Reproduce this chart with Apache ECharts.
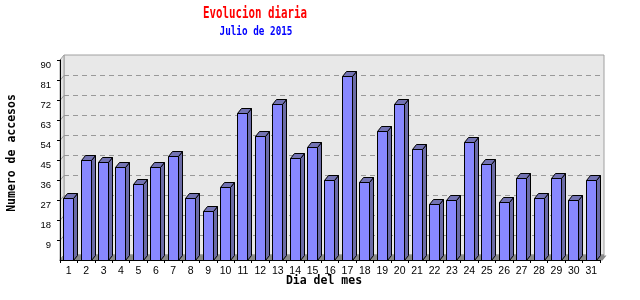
<!DOCTYPE html>
<html>
<head>
<meta charset="utf-8">
<script src="https://cdn.jsdelivr.net/npm/echarts@6/dist/echarts.min.js"></script>
<style>html,body{margin:0;padding:0;background:#fff}#c{width:640px;height:300px}</style>
</head>
<body>
<div id="c"></div>
<script>
const days = ['1','2','3','4','5','6','7','8','9','10','11','12','13','14','15','16','17','18','19','20','21','22','23','24','25','26','27','28','29','30','31'];
const accesos = [28,45,44,42,34,42,47,28,22,33,66,56,70,46,51,36,83,35,58,70,50,25,27,53,43,26,37,28,37,27,36];
const yTicks = [9,18,27,36,45,54,63,72,81,90];
const titleText = 'Evolucion diaria';
const subtitleText = 'Julio de 2015';
const yName = 'Numero de accesos';
const xName = 'Dia del mes';

const DX = 4, DY = 5;
const MONO = '"DejaVu Sans Mono", "Liberation Mono", monospace';
const SANS = '"Liberation Sans", Arial, sans-serif';
const NARROW = '"Liberation Sans Narrow", "Liberation Sans", Arial, sans-serif';

const chart = echarts.init(document.getElementById('c'), null, {renderer: 'canvas'});

function frameRender(params, api) {
  const cs = params.coordSys;
  const x0 = cs.x, y0 = cs.y, x1 = cs.x + cs.width, y1 = cs.y + cs.height;
  const ch = [];
  ch.push({type: 'rect', shape: {x: x0 + DX, y: y0 - DY, width: cs.width, height: cs.height},
    style: {fill: '#e8e8e8', stroke: '#a0a0a0', lineWidth: 1}});
  ch.push({type: 'polygon', shape: {points: [[x0, y0], [x0 + DX, y0 - DY], [x0 + DX, y1 - DY], [x0, y1]]},
    style: {fill: '#e2e2e2', stroke: '#a0a0a0', lineWidth: 1}});
  yTicks.forEach(function (v) {
    if (v >= 90) return;
    const p = api.coord([0, v]);
    const yy = Math.round(p[1]) + 0.5;
    ch.push({type: 'line', shape: {x1: x0, y1: yy, x2: x0 + DX, y2: yy - DY},
      style: {stroke: '#999', lineWidth: 1}});
    ch.push({type: 'line', shape: {x1: x0 + DX, y1: yy - DY, x2: x1 + DX, y2: yy - DY},
      style: {stroke: '#999', lineWidth: 1, lineDash: [5, 4]}});
  });
  ch.push({type: 'polygon', shape: {points: [[x0, y1], [x0 + DX, y1 - DY], [x1 + DX, y1 - DY], [x1, y1]]},
    style: {fill: '#9c9c9c', stroke: '#8c8c8c', lineWidth: 1}});
  return {type: 'group', children: ch};
}

function barRender(params, api) {
  const idx = api.value(0), val = api.value(1);
  const top = api.coord([idx, val]);
  const base = api.coord([idx, 0]);
  const band = api.size([1, 0])[0];
  const w = Math.round(band * 0.55);
  const xa = Math.round(top[0] - w / 2 - 0.5) + 0.5;
  const xb = xa + w;
  const yt = Math.round(top[1]) + 0.5;
  const yb = Math.round(base[1]) + 0.5;
  return {type: 'group', children: [
    {type: 'polygon', shape: {points: [[xb, yb], [xb + DX, yb - DY], [xb + DX + 6, yb - DY], [xb + 6, yb]]},
      style: {fill: '#8a8a8a'}},
    {type: 'polygon', shape: {points: [[xb, yt], [xb + DX, yt - DY], [xb + DX, yb - DY], [xb, yb]]},
      style: {fill: '#6b6ba6', stroke: '#000', lineWidth: 1}},
    {type: 'polygon', shape: {points: [[xa, yt], [xa + DX, yt - DY], [xb + DX, yt - DY], [xb, yt]]},
      style: {fill: '#7373b3', stroke: '#000', lineWidth: 1}},
    {type: 'rect', shape: {x: xa, y: yt, width: w, height: yb - yt},
      style: {fill: '#8888ff', stroke: '#000', lineWidth: 1}}
  ]};
}

const option = {
  animation: false,
  backgroundColor: '#fff',
  graphic: [
    {type: 'text', x: 255, y: 14, scaleX: 0.72,
      style: {text: titleText, align: 'center', verticalAlign: 'middle', fill: '#ff0000',
        font: 'bold 15px ' + MONO}},
    {type: 'text', x: 256, y: 32, scaleX: 0.81,
      style: {text: subtitleText, align: 'center', verticalAlign: 'middle', fill: '#0000ff',
        font: 'bold 11.5px ' + MONO}},
    {type: 'text', x: 12.5, y: 153, rotation: Math.PI / 2,
      style: {text: yName, align: 'center', verticalAlign: 'middle', fill: '#000',
        font: 'bold 11.5px ' + MONO}},
    {type: 'text', x: 324, y: 281.5,
      style: {text: xName, align: 'center', verticalAlign: 'middle', fill: '#000',
        font: 'bold 11.5px ' + MONO}}
  ],
  grid: {left: 60, top: 60, width: 540, height: 200, containLabel: false},
  xAxis: {
    type: 'category', data: days, boundaryGap: true, z: 5,
    axisLine: {lineStyle: {color: '#000', width: 1}},
    axisTick: {show: true, length: 3, lineStyle: {color: '#000'}},
    axisLabel: {margin: 6, color: '#000', fontSize: 10.5, fontFamily: SANS, interval: 0},
    splitLine: {show: false}
  },
  yAxis: {
    type: 'value', min: 0, max: 90, interval: 9, z: 5,
    axisLine: {show: true, lineStyle: {color: '#000', width: 1}},
    axisTick: {show: true, length: 3, lineStyle: {color: '#000'}},
    axisLabel: {margin: 9, color: '#000', fontSize: 9.5, fontFamily: NARROW,
      verticalAlign: 'top', showMinLabel: false,
      formatter: function (v) { return yTicks.indexOf(v) >= 0 ? String(v) : ''; }},
    splitLine: {show: false}
  },
  series: [
    {type: 'custom', name: 'frame', z: 0, silent: true, clip: false,
      data: [[0, 0]], renderItem: frameRender},
    {type: 'custom', name: 'accesos', z: 2, clip: false,
      encode: {x: 0, y: 1},
      data: accesos.map(function (v, i) { return [i, v]; }),
      renderItem: barRender}
  ]
};
chart.setOption(option);
</script>
</body>
</html>
